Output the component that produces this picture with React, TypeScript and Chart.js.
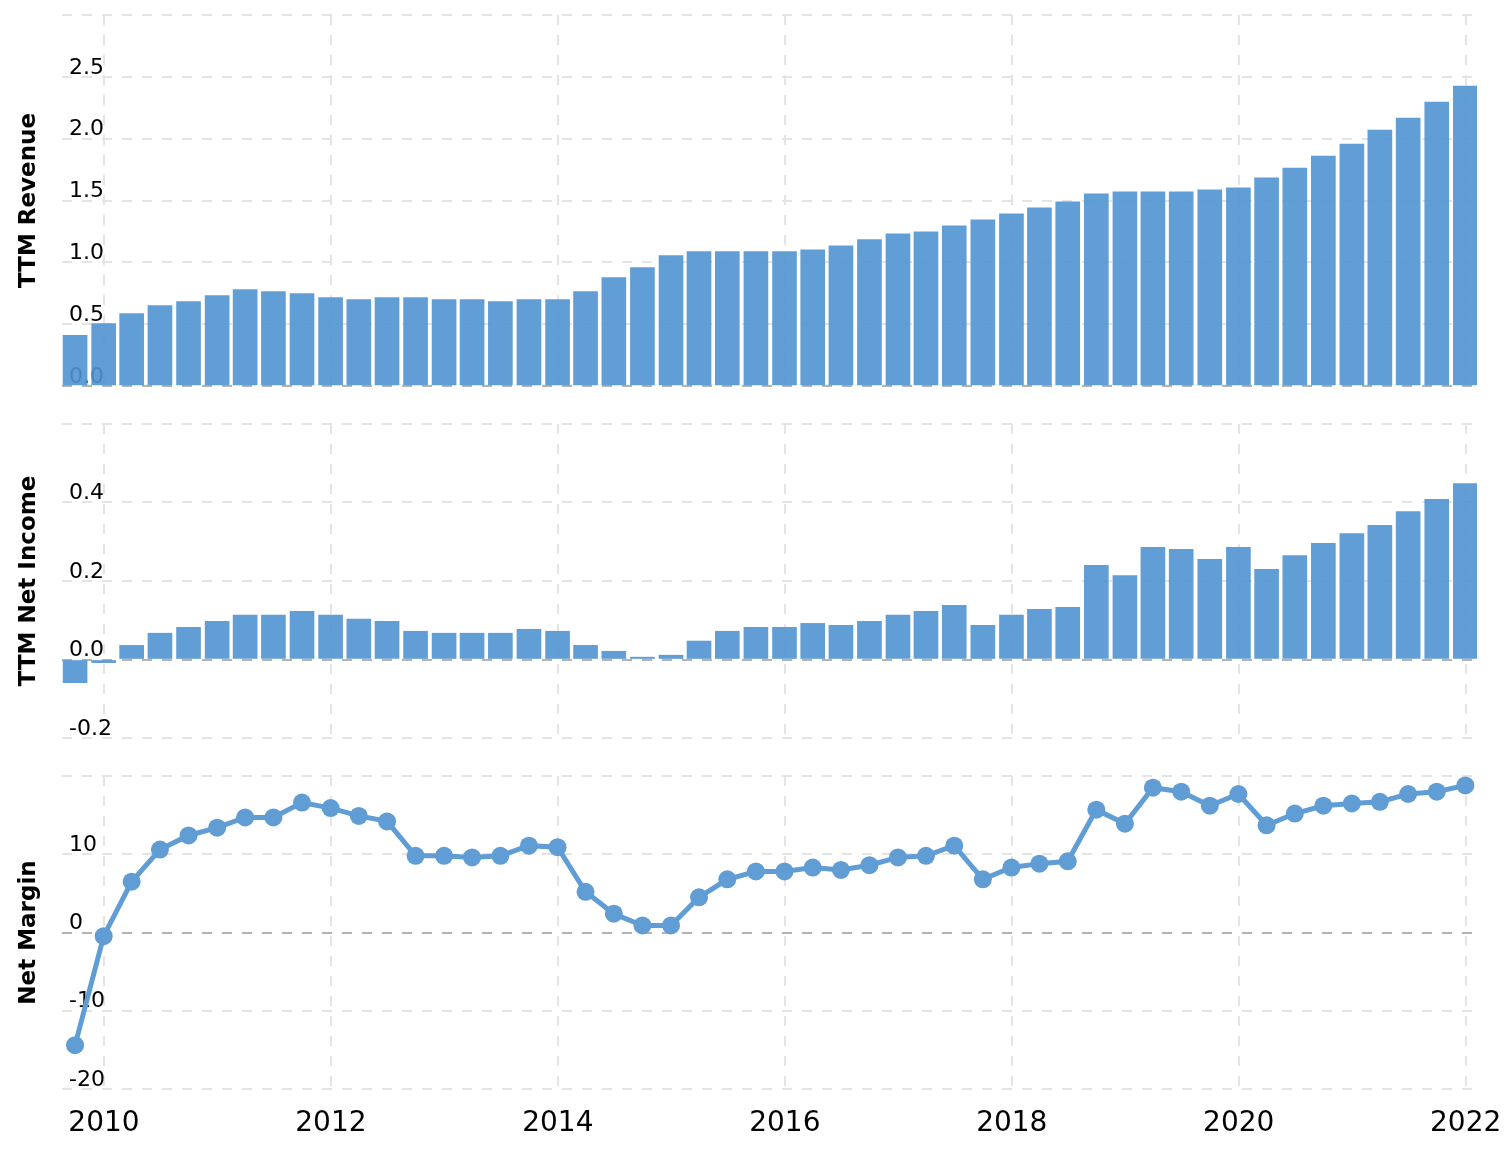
import React, { useEffect, useRef } from 'react';
import { Chart, registerables } from 'chart.js';

Chart.register(...registerables);

// Quarter-end dates of each TTM observation
const quarterEnds = [
  '2009-09-30', '2009-12-31',
  '2010-03-31', '2010-06-30', '2010-09-30', '2010-12-31',
  '2011-03-31', '2011-06-30', '2011-09-30', '2011-12-31',
  '2012-03-31', '2012-06-30', '2012-09-30', '2012-12-31',
  '2013-03-31', '2013-06-30', '2013-09-30', '2013-12-31',
  '2014-03-31', '2014-06-30', '2014-09-30', '2014-12-31',
  '2015-03-31', '2015-06-30', '2015-09-30', '2015-12-31',
  '2016-03-31', '2016-06-30', '2016-09-30', '2016-12-31',
  '2017-03-31', '2017-06-30', '2017-09-30', '2017-12-31',
  '2018-03-31', '2018-06-30', '2018-09-30', '2018-12-31',
  '2019-03-31', '2019-06-30', '2019-09-30', '2019-12-31',
  '2020-03-31', '2020-06-30', '2020-09-30', '2020-12-31',
  '2021-03-31', '2021-06-30', '2021-09-30', '2021-12-31',
];

const ttmRevenue = [
  0.41, 0.505, 0.586, 0.65, 0.683, 0.731, 0.78, 0.763, 0.747, 0.715,
  0.699, 0.715, 0.715, 0.699, 0.699, 0.683, 0.699, 0.699, 0.763, 0.876,
  0.957, 1.054, 1.086, 1.086, 1.086, 1.086, 1.102, 1.134, 1.183, 1.231,
  1.247, 1.296, 1.344, 1.392, 1.441, 1.489, 1.554, 1.57, 1.57, 1.57,
  1.586, 1.602, 1.683, 1.763, 1.86, 1.957, 2.07, 2.167, 2.296, 2.425,
];

const ttmNetIncome = [
  -0.059, -0.008, 0.036, 0.067, 0.082, 0.097, 0.113, 0.113, 0.123, 0.113,
  0.103, 0.097, 0.072, 0.067, 0.067, 0.067, 0.077, 0.072, 0.036, 0.021,
  0.006, 0.011, 0.047, 0.072, 0.082, 0.082, 0.092, 0.087, 0.097, 0.113,
  0.123, 0.138, 0.087, 0.113, 0.128, 0.133, 0.24, 0.214, 0.286, 0.281,
  0.255, 0.286, 0.23, 0.265, 0.296, 0.321, 0.342, 0.377, 0.408, 0.448,
];

const netMargin = [
  -14.4, -0.47, 6.5, 10.6, 12.4, 13.4, 14.7, 14.7, 16.6, 15.9,
  14.9, 14.2, 9.8, 9.8, 9.6, 9.8, 11.1, 10.9, 5.2, 2.4,
  0.9, 0.9, 4.5, 6.8, 7.8, 7.8, 8.3, 8.0, 8.6, 9.6,
  9.8, 11.1, 6.8, 8.3, 8.8, 9.1, 15.7, 13.9, 18.5, 18.0,
  16.2, 17.7, 13.7, 15.2, 16.2, 16.5, 16.7, 17.7, 18.0, 18.8,
];

const yearTicks = [2010, 2012, 2014, 2016, 2018, 2020, 2022];
const revenueTicks = [0, 0.5, 1, 1.5, 2, 2.5, 3];
const incomeTicks = [-0.2, 0, 0.2, 0.4, 0.6];
const marginTicks = [-20, -10, 0, 10, 20];

const X_MIN = 2009.63;
const X_MAX = 2022.1;

const BAR_COLOR = 'rgba(80,148,208,0.9)';
const LINE_COLOR = '#5f9dd4';
const GRID_COLOR = '#e4e4e4';
const ZERO_COLOR = '#b3b3b3';
const FONT = 'DejaVu Sans';

function toYear(s: string): number {
  const [y, m, d] = s.split('-').map(Number);
  const start = Date.UTC(y, 0, 1);
  const end = Date.UTC(y + 1, 0, 1);
  return y + (Date.UTC(y, m - 1, d) - start) / (end - start);
}

const xs = quarterEnds.map(toYear);

function buildConfig(
  kind: 'bar' | 'line',
  values: number[],
  ticks: number[],
  fmt: (v: number) => string,
  title: string,
  showX: boolean,
  padding: { top: number; bottom: number },
) {
  const ymin = ticks[0];
  const ymax = ticks[ticks.length - 1];
  const data = xs.map((x, i) => ({ x, y: values[i] }));
  const dataset: any =
    kind === 'bar'
      ? {
          type: 'bar',
          data,
          backgroundColor: BAR_COLOR,
          borderWidth: 0,
          barThickness: 24,
          yAxisID: 'y',
        }
      : {
          type: 'line',
          data,
          borderColor: LINE_COLOR,
          backgroundColor: LINE_COLOR,
          borderWidth: 5,
          pointRadius: 9,
          pointBackgroundColor: LINE_COLOR,
          pointBorderWidth: 0,
          tension: 0,
          clip: false,
          yAxisID: 'y',
        };

  return {
    type: kind,
    data: { datasets: [dataset] },
    options: {
      responsive: false,
      animation: false,
      events: [],
      layout: { padding: { left: 0, right: 33, top: padding.top, bottom: padding.bottom } },
      plugins: { legend: { display: false }, tooltip: { enabled: false } },
      scales: {
        x: {
          type: 'linear',
          offset: false,
          min: X_MIN,
          max: X_MAX,
          afterBuildTicks: (s: any) => {
            s.ticks = yearTicks.map((v) => ({ value: v }));
          },
          afterFit: (s: any) => {
            s.height = showX ? 52 : 0;
            s.paddingLeft = 0;
            s.paddingRight = 0;
          },
          ticks: {
            display: showX,
            autoSkip: false,
            maxRotation: 0,
            padding: 18,
            color: '#000',
            font: { family: FONT, size: 28 },
            callback: (v: any) => String(v),
          },
          grid: { color: GRID_COLOR, lineWidth: 2, drawTicks: false, offset: false },
          border: { display: false, dash: [10, 10] },
        },
        y: {
          type: 'linear',
          position: 'left',
          weight: 1,
          min: ymin,
          max: ymax,
          afterBuildTicks: (s: any) => {
            s.ticks = ticks.map((v) => ({ value: v }));
          },
          afterFit: (s: any) => {
            s.width = 62;
            s.paddingTop = 0;
            s.paddingBottom = 0;
          },
          ticks: { display: false },
          grid: {
            color: (ctx: any) => (ctx.tick && ctx.tick.value === 0 ? ZERO_COLOR : GRID_COLOR),
            lineWidth: 2,
            drawTicks: false,
          },
          border: { display: false, dash: [10, 10] },
          title: {
            display: true,
            text: title,
            color: '#000',
            font: { family: FONT, size: 23, weight: 'bold' },
            padding: { top: 15, bottom: 0 },
          },
        },
        yLabels: {
          type: 'linear',
          position: 'left',
          weight: 0,
          z: 1,
          min: ymin,
          max: ymax,
          afterBuildTicks: (s: any) => {
            s.ticks = ticks.map((v) => ({ value: v }));
          },
          afterFit: (s: any) => {
            s.width = 0;
            s.paddingTop = 0;
            s.paddingBottom = 0;
          },
          ticks: {
            mirror: true,
            padding: 7,
            labelOffset: -9,
            color: '#000',
            font: { family: FONT, size: 22 },
            callback: (v: any) => (v === ymax ? '' : fmt(v)),
          },
          grid: { display: false, drawTicks: false },
          border: { display: false },
        },
      },
    },
  };
}

function Panel({ top, height, make }: { top: number; height: number; make: () => any }) {
  const ref = useRef<HTMLCanvasElement>(null);
  useEffect(() => {
    const chart = new Chart(ref.current as HTMLCanvasElement, make());
    return () => chart.destroy();
  }, []);
  return (
    <canvas
      ref={ref}
      width={1510}
      height={height}
      style={{ position: 'absolute', left: 0, top, width: 1510, height, display: 'block' }}
    />
  );
}

export default function App() {
  return (
    <div
      style={{
        position: 'absolute',
        left: 0,
        top: 0,
        width: 1510,
        height: 1162,
        overflow: 'hidden',
        background: '#fff',
      }}
    >
      <Panel
        top={0}
        height={400}
        make={() =>
          buildConfig('bar', ttmRevenue, revenueTicks, (v) => v.toFixed(1), 'TTM Revenue', false, {
            top: 15,
            bottom: 14,
          })
        }
      />
      <Panel
        top={400}
        height={362}
        make={() =>
          buildConfig('bar', ttmNetIncome, incomeTicks, (v) => v.toFixed(1), 'TTM Net Income', false, {
            top: 24,
            bottom: 24,
          })
        }
      />
      <Panel
        top={762}
        height={400}
        make={() =>
          buildConfig('line', netMargin, marginTicks, (v) => String(v), 'Net Margin', true, {
            top: 14,
            bottom: 21,
          })
        }
      />
    </div>
  );
}
